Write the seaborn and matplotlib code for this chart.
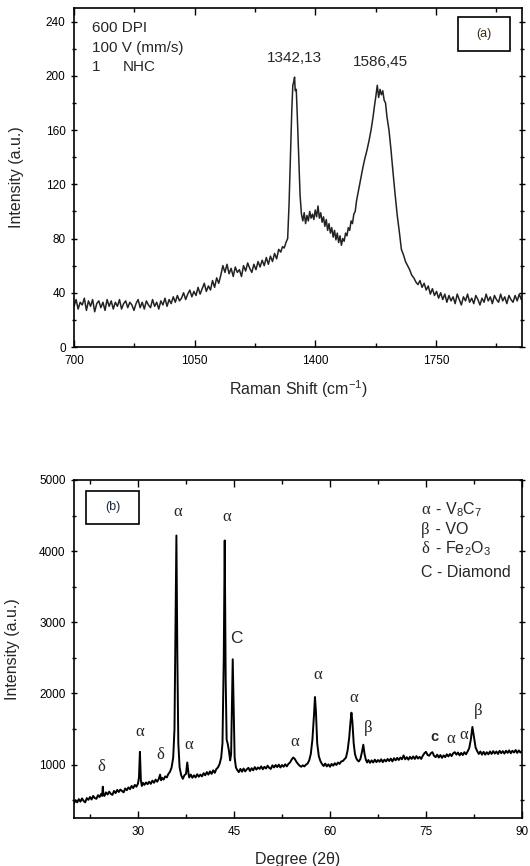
import matplotlib
matplotlib.use("Agg")
import matplotlib.pyplot as plt
import seaborn as sns
from matplotlib.patches import Rectangle
from matplotlib.ticker import MultipleLocator

# ---------------- data: Raman spectrum (a) ----------------
raman_shift = [
    700, 706, 712, 718, 724, 730, 736, 742, 748, 754,
    760, 766, 772, 778, 784, 790, 796, 802, 808, 814,
    820, 826, 832, 838, 844, 850, 856, 862, 868, 874,
    880, 886, 892, 898, 904, 910, 916, 922, 928, 934,
    940, 946, 952, 958, 964, 970, 976, 982, 988, 994,
    1000, 1006, 1012, 1018, 1024, 1030, 1036, 1042, 1048, 1054,
    1060, 1066, 1072, 1078, 1084, 1090, 1096, 1102, 1108, 1114,
    1120, 1126, 1132, 1138, 1144, 1150, 1156, 1162, 1168, 1174,
    1180, 1186, 1192, 1198, 1204, 1210, 1216, 1222, 1228, 1234,
    1240, 1246, 1252, 1258, 1264, 1270, 1276, 1282, 1288, 1294,
    1300, 1305, 1310, 1315, 1320, 1324, 1328, 1332, 1335, 1338,
    1340, 1342, 1345, 1348, 1352, 1356, 1360, 1364, 1368, 1372,
    1376, 1380, 1384, 1388, 1392, 1396, 1400, 1404, 1408, 1412,
    1416, 1420, 1424, 1428, 1432, 1436, 1440, 1444, 1448, 1452,
    1456, 1460, 1464, 1468, 1472, 1476, 1480, 1484, 1488, 1492,
    1496, 1500, 1504, 1508, 1512, 1516, 1520, 1526, 1532, 1538,
    1544, 1550, 1556, 1562, 1568, 1572, 1576, 1580, 1584, 1588,
    1592, 1596, 1600, 1604, 1608, 1614, 1620, 1626, 1632, 1638,
    1644, 1650, 1656, 1662, 1668, 1674, 1680, 1686, 1692, 1698,
    1704, 1710, 1716, 1722, 1728, 1734, 1740, 1746, 1752, 1758,
    1764, 1770, 1776, 1782, 1788, 1794, 1800, 1806, 1812, 1818,
    1824, 1830, 1836, 1842, 1848, 1854, 1860, 1866, 1872, 1878,
    1884, 1890, 1896, 1902, 1908, 1914, 1920, 1926, 1932, 1938,
    1944, 1950, 1956, 1962, 1968, 1974, 1980, 1986, 1992, 1998,
]
raman_intensity = [
    30, 35, 28, 33, 31, 36, 27, 34, 30, 35,
    26, 32, 34, 29, 33, 27, 35, 30, 34, 28,
    33, 30, 35, 28, 32, 34, 29, 33, 31, 27,
    32, 35, 29, 33, 28, 34, 31, 29, 35, 30,
    33, 28, 34, 31, 36, 30, 35, 32, 37, 33,
    38, 34, 36, 40, 35, 39, 42, 37, 41, 38,
    44, 39, 43, 47, 41, 45, 42, 49, 44, 51,
    47, 53, 60, 55, 61, 54, 58, 52, 59, 55,
    57, 52, 60, 56, 62, 58, 55, 61, 57, 63,
    59, 64, 60, 66, 61, 67, 63, 69, 65, 72,
    70, 74, 73, 77, 80, 105, 140, 175, 193, 196,
    199, 189, 190, 170, 140, 112, 98, 93, 99, 91,
    97, 93, 100, 95, 98, 94, 101, 96, 104, 95,
    99, 92, 96, 89, 94, 86, 91, 84, 88, 81,
    86, 79, 84, 77, 82, 75, 80, 78, 84, 82,
    88, 86, 93, 91, 98, 100, 108, 116, 124, 132,
    139, 145, 152, 160, 170, 178, 185, 193, 184, 190,
    186, 189, 182, 180, 170, 160, 145, 128, 112, 97,
    85, 72, 68, 63, 60, 57, 53, 51, 48, 46,
    49, 44, 47, 42, 45, 39, 43, 38, 41, 36,
    40, 35, 39, 33, 38, 34, 37, 32, 39, 35,
    31, 37, 34, 39, 33, 36, 32, 38, 35, 31,
    36, 33, 39, 34, 37, 32, 38, 35, 33, 39,
    34, 37, 32, 38, 35, 33, 38, 34, 39, 35,
]
raman_peak_labels = ["1342,13", "1586,45"]
raman_peak_pos = [1340, 1590]
raman_peak_y = [210, 207]
raman_info = ["600 DPI", "100 V (mm/s)", "1"]

# ---------------- data: XRD pattern (b) ----------------
xrd_deg = [
    20.0, 20.25, 20.5, 20.75, 21.0, 21.25, 21.5, 21.75, 22.0, 22.25,
    22.5, 22.75, 23.0, 23.25, 23.5, 23.75, 24.0, 24.25, 24.4, 24.5,
    24.6, 24.75, 25.0, 25.25, 25.5, 25.75, 26.0, 26.25, 26.5, 26.75,
    27.0, 27.25, 27.5, 27.75, 28.0, 28.25, 28.5, 28.75, 29.0, 29.25,
    29.5, 29.75, 30.0, 30.15, 30.3, 30.45, 30.6, 30.75, 31.0, 31.25,
    31.5, 31.75, 32.0, 32.25, 32.5, 32.75, 33.0, 33.25, 33.45, 33.6,
    33.75, 34.0, 34.25, 34.5, 34.75, 35.0, 35.25, 35.5, 35.7, 35.85,
    36.0, 36.15, 36.3, 36.5, 36.75, 37.0, 37.25, 37.5, 37.7, 37.9,
    38.0, 38.25, 38.5, 38.75, 39.0, 39.25, 39.5, 39.75, 40.0, 40.25,
    40.5, 40.75, 41.0, 41.25, 41.5, 41.75, 42.0, 42.25, 42.5, 42.75,
    43.0, 43.2, 43.4, 43.55, 43.7, 43.85, 44.0, 44.2, 44.4, 44.55,
    44.7, 44.8, 44.95, 45.1, 45.3, 45.5, 45.75, 46.0, 46.25, 46.5,
    46.75, 47.0, 47.25, 47.5, 47.75, 48.0, 48.25, 48.5, 48.75, 49.0,
    49.25, 49.5, 49.75, 50.0, 50.25, 50.5, 50.75, 51.0, 51.25, 51.5,
    51.75, 52.0, 52.25, 52.5, 52.75, 53.0, 53.25, 53.5, 53.75, 54.0,
    54.25, 54.5, 54.75, 55.0, 55.25, 55.5, 55.75, 56.0, 56.25, 56.5,
    56.75, 57.0, 57.25, 57.5, 57.65, 57.8, 58.0, 58.25, 58.5, 58.75,
    59.0, 59.25, 59.5, 59.75, 60.0, 60.25, 60.5, 60.75, 61.0, 61.25,
    61.5, 61.75, 62.0, 62.25, 62.5, 62.75, 63.0, 63.2, 63.35, 63.5,
    63.7, 63.9, 64.1, 64.3, 64.5, 64.75, 65.0, 65.2, 65.4, 65.6,
    65.8, 66.0, 66.25, 66.5, 66.75, 67.0, 67.25, 67.5, 67.75, 68.0,
    68.25, 68.5, 68.75, 69.0, 69.25, 69.5, 69.75, 70.0, 70.25, 70.5,
    70.75, 71.0, 71.25, 71.5, 71.75, 72.0, 72.25, 72.5, 72.75, 73.0,
    73.25, 73.5, 73.75, 74.0, 74.25, 74.5, 74.75, 75.0, 75.25, 75.5,
    75.75, 76.0, 76.25, 76.5, 76.75, 77.0, 77.25, 77.5, 77.75, 78.0,
    78.25, 78.5, 78.75, 79.0, 79.25, 79.5, 79.75, 80.0, 80.25, 80.5,
    80.75, 81.0, 81.25, 81.5, 81.75, 82.0, 82.25, 82.5, 82.75, 83.0,
    83.25, 83.5, 83.75, 84.0, 84.25, 84.5, 84.75, 85.0, 85.25, 85.5,
    85.75, 86.0, 86.25, 86.5, 86.75, 87.0, 87.25, 87.5, 87.75, 88.0,
    88.25, 88.5, 88.75, 89.0, 89.25, 89.5, 89.75, 90.0,
]
xrd_counts = [
    455, 500, 470, 515, 480, 525, 490, 470, 530, 505,
    545, 510, 560, 530, 520, 570, 545, 590, 560, 690,
    575, 560, 610, 580, 620, 590, 575, 630, 600, 645,
    615, 650, 630, 610, 665, 640, 680, 655, 700, 670,
    715, 690, 735, 820, 1180, 780, 700, 745, 715, 750,
    725, 760, 730, 775, 745, 790, 760, 800, 860, 780,
    815, 790, 835, 820, 870, 900, 960, 1100, 1500, 2800,
    4220, 2500, 1300, 960, 850, 800, 850, 870, 1030, 870,
    820, 860, 815, 850, 820, 865, 830, 860, 835, 880,
    850, 895, 860, 905, 870, 920, 885, 940, 960, 1010,
    1100, 1300, 2500, 4150, 2200, 1350, 1300, 1200, 1060, 1150,
    2000, 2480, 1800, 1100, 960, 925, 895, 940, 900, 945,
    905, 935, 955, 910, 950, 920, 965, 930, 960, 940,
    975, 935, 970, 945, 985, 955, 940, 990, 960, 995,
    965, 1000, 960, 995, 970, 1005, 975, 1010, 1030, 1070,
    1100, 1080, 1040, 1010, 985, 970, 990, 975, 1000, 1015,
    1060, 1150, 1350, 1700, 1950, 1750, 1300, 1120, 1050, 1010,
    980, 1015, 975, 1005, 970, 1010, 985, 1020, 995, 1030,
    1010, 1045, 1050, 1075, 1100, 1200, 1380, 1600, 1730, 1600,
    1300, 1150, 1090, 1060, 1045, 1080, 1180, 1280, 1150, 1070,
    1030, 1065, 1025, 1060, 1030, 1070, 1035, 1065, 1040, 1075,
    1035, 1070, 1045, 1080, 1050, 1085, 1045, 1090, 1060, 1095,
    1065, 1100, 1075, 1130, 1075, 1105, 1070, 1110, 1080, 1115,
    1080, 1120, 1085, 1110, 1080, 1125, 1160, 1180, 1135, 1125,
    1160, 1175, 1125, 1105, 1140, 1100, 1135, 1095, 1130, 1105,
    1145, 1115, 1150, 1120, 1160, 1175, 1140, 1170, 1130, 1165,
    1135, 1175, 1145, 1185, 1230, 1350, 1530, 1380, 1240, 1190,
    1150, 1185, 1140, 1180, 1140, 1175, 1145, 1185, 1150, 1190,
    1155, 1185, 1150, 1195, 1160, 1190, 1155, 1195, 1165, 1200,
    1160, 1195, 1170, 1205, 1165, 1200, 1170, 1190,
]
# phase markers above the peaks
xrd_mark_text = ["δ", "α", "δ", "α", "α", "α", "α", "α", "α", "β", "α", "α", "β"]
xrd_mark_x = [24.2, 30.3, 33.5, 36.2, 37.9, 43.9, 54.5, 58.1, 63.7, 66.0, 78.9, 80.9, 83.1]
xrd_mark_y = [960, 1463, 1140, 4550, 1270, 4480, 1320, 2260, 1940, 1520, 1360, 1410, 1760]
xrd_c_text = ["C", "c"]
xrd_c_x = [45.3, 76.3]
xrd_c_y = [2770, 1390]
legend_greek = ["α", "β", "δ", "C"]
legend_names = [" - V$_8$C$_7$", " - VO", " - Fe$_2$O$_3$", " - Diamond"]

# ---------------- style ----------------
sns.set_style("ticks")
plt.rcParams["font.family"] = ["Liberation Sans", "DejaVu Sans"]
plt.rcParams["mathtext.fontset"] = "custom"
plt.rcParams["mathtext.rm"] = "Liberation Sans"
plt.rcParams["mathtext.it"] = "Liberation Sans:italic"
plt.rcParams["mathtext.bf"] = "Liberation Sans:bold"
SERIF = ["Liberation Serif", "DejaVu Serif"]

fig = plt.figure(figsize=(5.30, 8.66), dpi=100)
W, H = 530, 866
RIGHT = 522


def add_axes_px(left, top, right, bottom):
    return fig.add_axes([left / W, 1 - bottom / H, (right - left) / W, (bottom - top) / H])


def style_axes(ax):
    for s in ax.spines.values():
        s.set_visible(True)
        s.set_linewidth(1.2)
        s.set_color("black")
    ax.tick_params(which="both", top=True, right=True, direction="in",
                   labelsize=8.5, colors="black", width=1.0)
    ax.tick_params(axis="y", which="both", left=True, direction="inout")
    ax.tick_params(which="major", length=5)
    ax.tick_params(which="minor", length=3)
    ax.tick_params(axis="x", which="major", pad=6)


# ---------------- panel (a) ----------------
ax1 = add_axes_px(74, 8, RIGHT, 347)
sns.lineplot(x=raman_shift, y=raman_intensity, ax=ax1, color="#222222",
             linewidth=1.1, estimator=None, sort=False)
ax1.set_xlim(700, 2000)
ax1.set_ylim(0, 250)
ax1.xaxis.set_major_locator(MultipleLocator(350))
ax1.xaxis.set_minor_locator(MultipleLocator(175))
ax1.yaxis.set_major_locator(MultipleLocator(40))
ax1.yaxis.set_minor_locator(MultipleLocator(20))
style_axes(ax1)
ax1.set_xlabel("Raman Shift (cm$^{-1}$)", fontsize=11.5, labelpad=8)
ax1.set_ylabel("Intensity (a.u.)", fontsize=11.5, labelpad=16)

ax1.text(0.04, 0.941, raman_info[0], transform=ax1.transAxes, fontsize=11, va="center", ha="left")
ax1.text(0.04, 0.882, raman_info[1], transform=ax1.transAxes, fontsize=11, va="center", ha="left")
ax1.text(0.04, 0.826, raman_info[2], transform=ax1.transAxes, fontsize=11, va="center", ha="left")
ax1.text(0.108, 0.826, "NHC", transform=ax1.transAxes, fontsize=11, va="center", ha="left")
for lab, px, py in zip(raman_peak_labels, raman_peak_pos, raman_peak_y):
    ax1.text(px, py, lab, fontsize=11, ha="center", va="baseline")
ax1.add_patch(Rectangle((0.857, 0.873), 0.117, 0.100, transform=ax1.transAxes,
                        fill=False, edgecolor="black", linewidth=1.2))
ax1.text(0.915, 0.924, "(a)", transform=ax1.transAxes, fontsize=9, ha="center",
         va="center", color="#3a2a10")

# ---------------- panel (b) ----------------
ax2 = add_axes_px(74, 480, RIGHT, 818)
sns.lineplot(x=xrd_deg, y=xrd_counts, ax=ax2, color="black",
             linewidth=1.4, estimator=None, sort=False)
ax2.set_xlim(20, 90)
ax2.set_ylim(250, 5000)
ax2.xaxis.set_major_locator(MultipleLocator(15))
ax2.xaxis.set_minor_locator(MultipleLocator(7.5))
ax2.yaxis.set_major_locator(MultipleLocator(1000))
ax2.yaxis.set_minor_locator(MultipleLocator(500))
style_axes(ax2)
ax2.set_xlabel("Degree (2θ)", fontsize=11.5, labelpad=10)
ax2.set_ylabel("Intensity (a.u.)", fontsize=11.5, labelpad=14)

for t, mx, my in zip(xrd_mark_text, xrd_mark_x, xrd_mark_y):
    ax2.text(mx, my, t, fontsize=12, ha="center", va="center", family=SERIF)
ax2.text(xrd_c_x[0], xrd_c_y[0], xrd_c_text[0], fontsize=12.5, ha="center", va="center")
ax2.text(xrd_c_x[1], xrd_c_y[1], xrd_c_text[1], fontsize=10.5, ha="center", va="center",
         fontweight="bold")

leg_y = [0.912, 0.853, 0.797, 0.727]
for g, name, yy in zip(legend_greek, legend_names, leg_y):
    if g == "C":
        ax2.text(0.775, yy, g + name, transform=ax2.transAxes, fontsize=11.5,
                 ha="left", va="center")
    else:
        ax2.text(0.775, yy, g, transform=ax2.transAxes, fontsize=12, ha="left",
                 va="center", family=SERIF)
        ax2.text(0.797, yy, name, transform=ax2.transAxes, fontsize=11.5,
                 ha="left", va="center")

ax2.add_patch(Rectangle((0.027, 0.870), 0.119, 0.097, transform=ax2.transAxes,
                        fill=False, edgecolor="black", linewidth=1.2))
ax2.text(0.086, 0.920, "(b)", transform=ax2.transAxes, fontsize=9, ha="center",
         va="center", color="#1a2a40")

fig.savefig("out.png", dpi=100)
